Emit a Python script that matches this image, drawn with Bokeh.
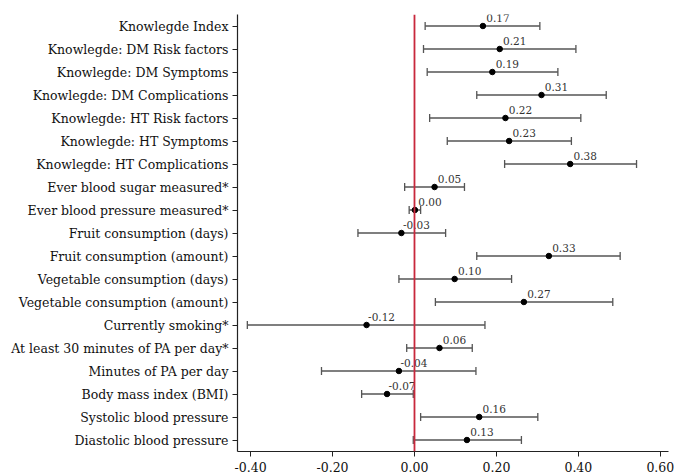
from bokeh.plotting import figure
from bokeh.models import ColumnDataSource, FactorRange, Whisker, TeeHead, Span, FixedTicker, NumeralTickFormatter, Range1d
from bokeh.core.properties import value
from bokeh.embed import file_html
from bokeh.resources import INLINE

categories = [
    "Knowlegde Index",
    "Knowlegde: DM Risk factors",
    "Knowlegde: DM Symptoms",
    "Knowlegde: DM Complications",
    "Knowlegde: HT Risk factors",
    "Knowlegde: HT Symptoms",
    "Knowlegde: HT Complications",
    "Ever blood sugar measured*",
    "Ever blood pressure measured*",
    "Fruit consumption (days)",
    "Fruit consumption (amount)",
    "Vegetable consumption (days)",
    "Vegetable consumption (amount)",
    "Currently smoking*",
    "At least 30 minutes of PA per day*",
    "Minutes of PA per day",
    "Body mass index (BMI)",
    "Systolic blood pressure",
    "Diastolic blood pressure",
]
estimates = [0.167, 0.208, 0.190, 0.310, 0.222, 0.231, 0.380, 0.049, 0.001, -0.032,
             0.328, 0.098, 0.267, -0.117, 0.061, -0.038, -0.067, 0.158, 0.128]
lower = [0.026, 0.022, 0.031, 0.152, 0.037, 0.080, 0.220, -0.024, -0.013, -0.138,
         0.152, -0.038, 0.051, -0.408, -0.019, -0.227, -0.129, 0.015, -0.003]
upper = [0.306, 0.394, 0.350, 0.468, 0.406, 0.383, 0.542, 0.122, 0.015, 0.076,
         0.502, 0.237, 0.484, 0.172, 0.141, 0.150, -0.003, 0.301, 0.261]
labels = ["0.17", "0.21", "0.19", "0.31", "0.22", "0.23", "0.38", "0.05", "0.00", "-0.03",
          "0.33", "0.10", "0.27", "-0.12", "0.06", "-0.04", "-0.07", "0.16", "0.13"]
x_ticks = [-0.4, -0.2, 0.0, 0.2, 0.4, 0.6]

src = ColumnDataSource(dict(cat=categories, est=estimates, lo=lower, hi=upper, lab=labels))

FONT = "DejaVu Serif"

p = figure(width=686, height=475, output_backend="svg", toolbar_location=None,
           y_range=FactorRange(*reversed(categories)),
           x_range=Range1d(-0.432, 0.62))
p.y_range.range_padding = 0
p.min_border_left = 237
p.min_border_right = 18
p.min_border_top = 14
p.min_border_bottom = 24
p.outline_line_color = None
p.grid.visible = False
p.background_fill_color = "white"

wh = Whisker(source=src, base="cat", lower="lo", upper="hi", dimension="width",
             line_color="#555555", line_width=1.3,
             lower_head=TeeHead(size=8, line_color="#555555", line_width=1.3),
             upper_head=TeeHead(size=8, line_color="#555555", line_width=1.3))
p.add_layout(wh)

p.add_layout(Span(location=0, dimension="height", line_color="#c8283c", line_width=1.8))

p.scatter("est", "cat", source=src, size=5.5, color="black")
p.text("est", "cat", text="lab", source=src, x_offset=15, y_offset=-8,
       text_align="center", text_baseline="alphabetic",
       text_font=value(FONT), text_font_size="10.5px", text_color="#333333")

p.xaxis.ticker = FixedTicker(ticks=x_ticks)
p.xaxis.formatter = NumeralTickFormatter(format="0.00")
for ax in (p.xaxis, p.yaxis):
    ax.major_label_text_font = FONT
    ax.major_label_text_color = "#111111"
    ax.axis_line_color = "#222222"
    ax.major_tick_line_color = "#222222"
    ax.axis_line_width = 1.2
    ax.minor_tick_line_color = None
    ax.major_tick_out = 5
    ax.major_tick_in = 0
p.xaxis.major_label_text_font_size = "12.5px"
p.yaxis.major_label_text_font_size = "12.5px"
p.yaxis.major_label_standoff = 4
p.xaxis.major_label_standoff = 5

open("out.html", "w").write(file_html(p, INLINE))
